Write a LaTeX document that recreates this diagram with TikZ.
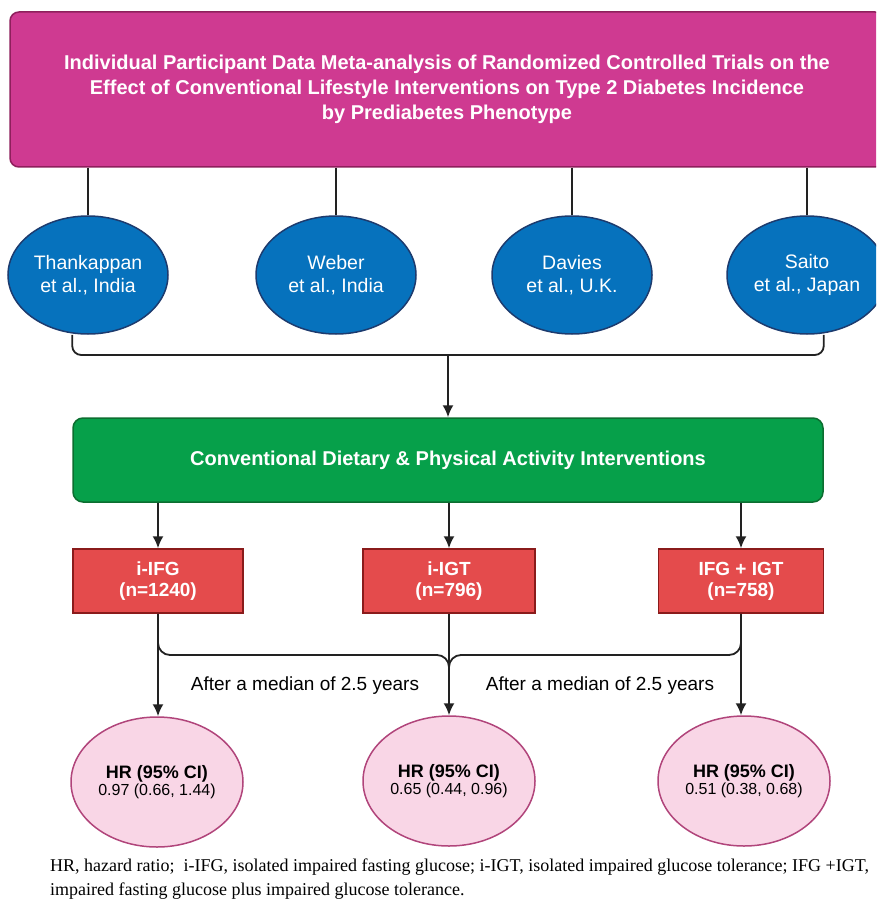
\documentclass[tikz,border=0pt]{standalone}
\usepackage{fontspec}
\setmainfont{Liberation Sans}
\newfontfamily\notefont{Liberation Serif}
\usetikzlibrary{positioning,shapes.geometric,arrows.meta}
\definecolor{headfill}{HTML}{CF3A91}
\definecolor{headline}{HTML}{8E1F5C}
\definecolor{studyfill}{HTML}{0672BD}
\definecolor{studyline}{HTML}{1D3B6E}
\definecolor{armfill}{HTML}{06A04A}
\definecolor{armline}{HTML}{0C6E30}
\definecolor{groupfill}{HTML}{E44B4C}
\definecolor{groupline}{HTML}{8A1B1B}
\definecolor{hrfill}{HTML}{F9D6E6}
\definecolor{hrline}{HTML}{B1457B}
\definecolor{ink}{HTML}{222222}

\begin{document}
\begin{tikzpicture}[
    x=1pt, y=-1pt,
    header/.style={
        draw=headline, line width=1.5pt,
        fill=headfill,
        rounded corners=9pt,
        minimum width=874pt,
        minimum height=155pt,
        text=white,
        font=\bfseries\fontsize{20}{25}\selectfont,
        align=center,
    },
    study/.style={
        ellipse, draw=studyline, line width=1.5pt,
        fill=studyfill,
        minimum width=160pt,
        minimum height=118pt,
        inner sep=0pt,
        text=white,
        font=\fontsize{19.5}{23}\selectfont,
        align=center,
    },
    arm/.style={
        draw=armline, line width=1.5pt,
        fill=armfill,
        rounded corners=10pt,
        minimum width=750pt,
        minimum height=84pt,
        text=white,
        font=\bfseries\fontsize{20}{21}\selectfont,
    },
    group/.style={
        draw=groupline, line width=1.5pt,
        fill=groupfill,
        minimum height=64pt,
        inner sep=0pt,
        text=white,
        font=\bfseries\fontsize{19}{21}\selectfont,
        align=center,
    },
    result/.style={
        ellipse, draw=hrline, line width=1.5pt,
        fill=hrfill,
        minimum width=172pt,
        minimum height=130pt,
        inner sep=0pt,
        align=center,
    },
    link/.style={draw=ink, line width=1.8pt},
    arr/.style={link, -{Latex[length=12pt,width=11pt]}},
    lapse/.style={font=\fontsize{19}{20}\selectfont},
]

\useasboundingbox (0,0) rectangle (876,901);
\clip (0,0) rectangle (876,901);

% header and the four trials
\node[header] (top) at (447,89.5) {Individual Participant Data Meta-analysis of Randomized Controlled Trials on the\\
Effect of Conventional Lifestyle Interventions on Type 2 Diabetes Incidence\\
by Prediabetes Phenotype};

\node[study] (thank) at (88,275) {Thankappan\\et al., India};
\node[study] (weber) at (336,275) {Weber\\et al., India};
\node[study] (davies) at (572,275) {Davies\\et al., U.K.};
\node[study] (saito) at (807,275) {Saito\\et al., Japan};

\foreach \s in {thank,weber,davies,saito}
    \draw[link] (top.south -| \s.north) -- (\s.north);

% pooled intervention
\node[arm] (diet) at (448,460) {Conventional Dietary \& Physical Activity Interventions};

\coordinate (pool) at (448,355);
\draw[link, rounded corners=9pt] (diet.west |- thank.south) |- (pool) -| (diet.east |- saito.south);
\draw[arr] (pool) -- (diet.north);

% phenotypes
\node[group, minimum width=170pt] (ifg) at (158,581) {i-IFG\\(n=1240)};
\node[group, minimum width=172pt] (igt) at (449,581) {i-IGT\\(n=796)};
\node[group, minimum width=165pt] (both) at (741,581) {IFG + IGT\\(n=758)};

\foreach \g in {ifg,igt,both}
    \draw[arr] (diet.south -| \g.north) -- (\g.north);

% hazard ratios
\node[result] (hr1) at (157,782) {{\bfseries\fontsize{18}{20}\selectfont HR (95\% CI)}\\{\fontsize{16}{18}\selectfont 0.97 (0.66, 1.44)}};
\node[result] (hr2) at (449,781) {{\bfseries\fontsize{18}{20}\selectfont HR (95\% CI)}\\{\fontsize{16}{18}\selectfont 0.65 (0.44, 0.96)}};
\node[result] (hr3) at (744,781) {{\bfseries\fontsize{18}{20}\selectfont HR (95\% CI)}\\{\fontsize{16}{18}\selectfont 0.51 (0.38, 0.68)}};

\coordinate (merge) at (449,676);
\draw[link, rounded corners=12pt] (ifg.south) |- ([yshift=21pt]merge) -- (merge);
\draw[link, rounded corners=12pt] (both.south) |- ([yshift=21pt]merge) -- (merge);

\draw[arr] (ifg.south) -- (ifg.south |- hr1.north);
\draw[arr] (igt.south) -- (igt.south |- hr2.north);
\draw[arr] (both.south) -- (both.south |- hr3.north);

\node[lapse] (after1) at (305,686) {After a median of 2.5 years};
\node[lapse] (after2) at (600,686) {After a median of 2.5 years};

% footnote
\node[anchor=base west, inner sep=0pt, align=left, font=\notefont\fontsize{18}{24}\selectfont] (note) at (50,895)
    {HR, hazard ratio;\ \ i-IFG, isolated impaired fasting glucose; i-IGT, isolated impaired glucose tolerance; IFG +IGT,\\
    impaired fasting glucose plus impaired glucose tolerance.};

\end{tikzpicture}
\end{document}
